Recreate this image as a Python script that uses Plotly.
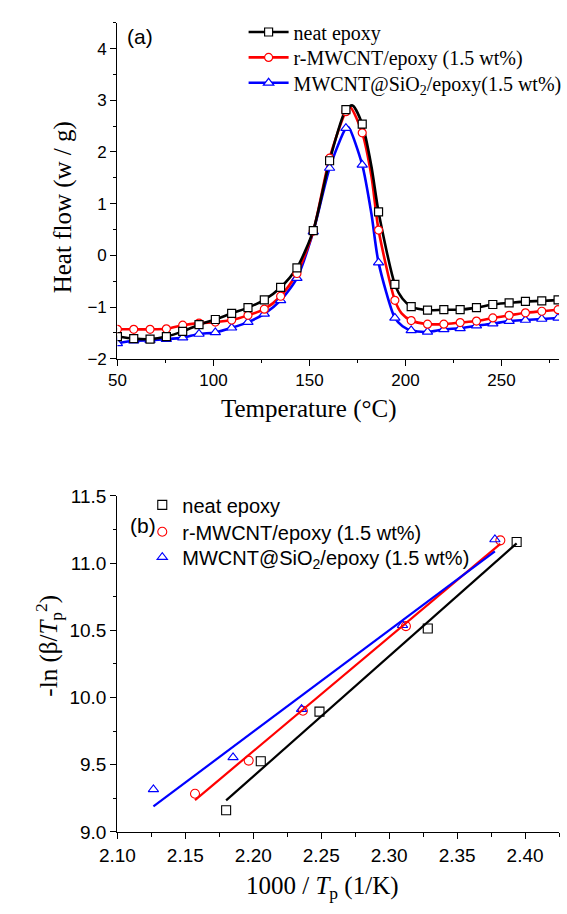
import numpy as np
import plotly.graph_objects as go

W, H = 567, 914

# ---------------- Panel (a): DSC curves ----------------
T_marks = [50, 58.5, 67, 75.5, 84, 92.5, 101, 109.5, 118, 126.5, 135, 143.5, 152,
           160.5, 169, 177.5, 186, 194.5, 203, 211.5, 220, 228.5, 237, 245.5, 254,
           262.5, 271, 279.5]
hf_neat = [-1.57, -1.61, -1.62, -1.57, -1.47, -1.34, -1.24, -1.12, -1.01, -0.86,
           -0.62, -0.24, 0.48, 1.83, 2.82, 2.54, 0.84, -0.56, -0.99, -1.06, -1.05,
           -1.05, -1.01, -0.95, -0.92, -0.89, -0.88, -0.86]
hf_rm = [-1.43, -1.43, -1.43, -1.42, -1.35, -1.31, -1.29, -1.25, -1.16, -1.04,
         -0.79, -0.35, 0.47, 1.88, 2.78, 2.37, 0.49, -0.87, -1.26, -1.33, -1.33,
         -1.30, -1.27, -1.21, -1.16, -1.11, -1.08, -1.05]
hf_si = [-1.70, -1.65, -1.64, -1.62, -1.59, -1.52, -1.49, -1.40, -1.29, -1.13,
         -0.87, -0.44, 0.46, 1.69, 2.46, 1.75, -0.14, -1.21, -1.45, -1.48, -1.43,
         -1.41, -1.36, -1.32, -1.27, -1.25, -1.23, -1.21]
# extra points that shape the continuous curves between markers
T_ext_neat = [172.4, 182.3, 198.5]
hf_ext_neat = [2.90, 1.72, -0.84]
T_ext_rm = [171.3, 182.3, 198.0]
hf_ext_rm = [2.86, 1.53, -1.12]
T_ext_si = [170.3, 182.3, 198.5]
hf_ext_si = [2.48, 0.80, -1.37]

names_a = ["neat epoxy", "r-MWCNT/epoxy (1.5 wt%)", "MWCNT@SiO<sub>2</sub>/epoxy(1.5 wt%)"]
names_b = ["neat epoxy", "r-MWCNT/epoxy (1.5 wt%)", "MWCNT@SiO<sub>2</sub>/epoxy (1.5 wt%)"]

# ---------------- Panel (b): Kissinger plots ----------------
x_neat = [2.1800, 2.2055, 2.2487, 2.3284, 2.3938]
y_neat = [9.162, 9.526, 9.895, 10.514, 11.157]
x_rm = [2.1571, 2.1966, 2.2365, 2.3123, 2.3818]
y_rm = [9.284, 9.531, 9.902, 10.531, 11.169]
x_si = [2.1265, 2.1851, 2.2355, 2.3098, 2.3778]
y_si = [9.317, 9.555, 9.914, 10.538, 11.176]

colors = ["#000000", "#ff0000", "#0000ff"]
sym_a = ["square", "circle", "triangle-up"]
sym_b = ["square-open", "circle-open", "triangle-up-open"]

SERIF = "Times New Roman, Liberation Serif, serif"
SANS = "Arial, Liberation Sans, sans-serif"

legends_a = ["legend", "legend3", "legend4"]
legends_b = ["legend2", "legend5", "legend6"]
rows_a = [22.5, 48.5, 74.5]
rows_b = [506.5, 534, 560]

fig = go.Figure()


def merged(tm, hm, te, he):
    pts = sorted(list(zip(tm, hm)) + list(zip(te, he)))
    return [p[0] for p in pts], [p[1] for p in pts]


series_a = [(hf_neat, T_ext_neat, hf_ext_neat), (hf_rm, T_ext_rm, hf_ext_rm),
            (hf_si, T_ext_si, hf_ext_si)]
# draw blue, red, black so black on top
for i in [2, 1, 0]:
    hm, te, he = series_a[i]
    lx, ly = merged(T_marks, hm, te, he)
    fig.add_trace(go.Scatter(x=lx, y=ly, mode="lines", xaxis="x", yaxis="y",
                             line=dict(color=colors[i], width=2.6, shape="spline", smoothing=0.7),
                             showlegend=False, hoverinfo="skip"))
for i in [2, 1, 0]:
    hm = series_a[i][0]
    fig.add_trace(go.Scatter(x=T_marks, y=hm, mode="markers", xaxis="x", yaxis="y",
                             marker=dict(symbol=sym_a[i], size=8 if i < 2 else 9, color="white",
                                         line=dict(color=colors[i], width=1.2)),
                             showlegend=False))
# legend entries for panel (a)
for i in range(3):
    fig.add_trace(go.Scatter(x=[None], y=[None], mode="lines+markers", name=names_a[i],
                             xaxis="x", yaxis="y", legend=legends_a[i],
                             line=dict(color=colors[i], width=2.6),
                             marker=dict(symbol=sym_a[i], size=8 if i < 2 else 9, color="white",
                                         line=dict(color=colors[i], width=1.2))))

# panel (b)
series_b = [(x_neat, y_neat), (x_rm, y_rm), (x_si, y_si)]
for i in range(3):
    xs, ys = series_b[i]
    fig.add_trace(go.Scatter(x=xs, y=ys, mode="markers", name=names_b[i],
                             xaxis="x2", yaxis="y2", legend=legends_b[i],
                             marker=dict(symbol=sym_b[i], size=9, color=colors[i],
                                         line=dict(width=1.1))))
for i in range(3):
    xs, ys = series_b[i]
    k, b = np.polyfit(xs, ys, 1)
    fx = [min(xs), max(xs)]
    fy = [k * v + b for v in fx]
    fig.add_trace(go.Scatter(x=fx, y=fy, mode="lines", xaxis="x2", yaxis="y2",
                             line=dict(color=colors[i], width=2.2),
                             showlegend=False, hoverinfo="skip"))

xdom = [104 / W, 566 / W]


def ydom(top_px, bot_px):
    return [1 - bot_px / H, 1 - top_px / H]


axis_common = dict(showline=True, linecolor="black", linewidth=1.4, ticks="outside",
                   ticklen=6, tickwidth=1.4, tickcolor="black", showgrid=False,
                   zeroline=False, mirror=False)

layout_legends = {}
for i in range(3):
    layout_legends[legends_a[i]] = dict(
        x=236 / W, y=1 - rows_a[i] / H, xanchor="left", yanchor="middle",
        bgcolor="rgba(0,0,0,0)", font=dict(family=SERIF, size=20, color="black"), itemwidth=40)
    layout_legends[legends_b[i]] = dict(
        x=130 / W, y=1 - rows_b[i] / H, xanchor="left", yanchor="middle",
        bgcolor="rgba(0,0,0,0)", font=dict(family=SANS, size=20, color="black"))

fig.update_layout(
    width=W, height=H, margin=dict(l=0, r=0, t=0, b=0),
    paper_bgcolor="white", plot_bgcolor="white",
    xaxis=dict(domain=xdom, range=[50, 280], tick0=50, dtick=50, anchor="y",
               minor=dict(tick0=50, dtick=25, ticks="outside", ticklen=3.5, tickwidth=1.2, tickcolor="black"),
               tickfont=dict(family=SANS, size=17, color="black"), **axis_common),
    yaxis=dict(domain=ydom(13, 357), range=[-2, 4.5], tick0=0, dtick=1, anchor="x",
               minor=dict(tick0=0, dtick=0.5, ticks="outside", ticklen=3.5, tickwidth=1.2, tickcolor="black"),
               tickfont=dict(family=SANS, size=17, color="black"), **axis_common),
    xaxis2=dict(domain=xdom, range=[2.10, 2.425], tick0=2.1, dtick=0.05, anchor="y2",
                tickformat=".2f",
                minor=dict(tick0=2.1, dtick=0.025, ticks="outside", ticklen=3.5, tickwidth=1.2, tickcolor="black"),
                tickfont=dict(family=SANS, size=19, color="black"), **axis_common),
    yaxis2=dict(domain=ydom(497.3, 841.3), range=[9.0, 11.5], tick0=9, dtick=0.5, anchor="x2",
                tickformat=".1f",
                minor=dict(tick0=9, dtick=0.25, ticks="outside", ticklen=3.5, tickwidth=1.2, tickcolor="black"),
                tickfont=dict(family=SANS, size=19, color="black"), **axis_common),
    showlegend=True,
    **layout_legends,
)


def ann(text, xpx, ypx, size, family, angle=0):
    fig.add_annotation(text=text, x=xpx / W, y=1 - ypx / H, xref="paper", yref="paper",
                       xanchor="center", yanchor="middle", showarrow=False, textangle=angle,
                       font=dict(family=family, size=size, color="black"))


ann("Heat flow (w / g)", 47, 202, 25, SERIF, -90)
ann("Temperature (°C)", 304, 408, 25, SERIF)
ann("-ln (β/<i>T</i><sub>p</sub><sup>2</sup>)", 32, 651, 25, SERIF, -90)
ann("1000 / <i>T</i><sub>p</sub> (1/K)", 319, 898, 25, SERIF)
ann("(a)", 128, 27, 21, SANS)
ann("(b)", 131, 528, 21, SANS)

fig.write_html("out.html",
               post_script="document.body.style.margin='0';document.body.style.overflow='hidden';")
